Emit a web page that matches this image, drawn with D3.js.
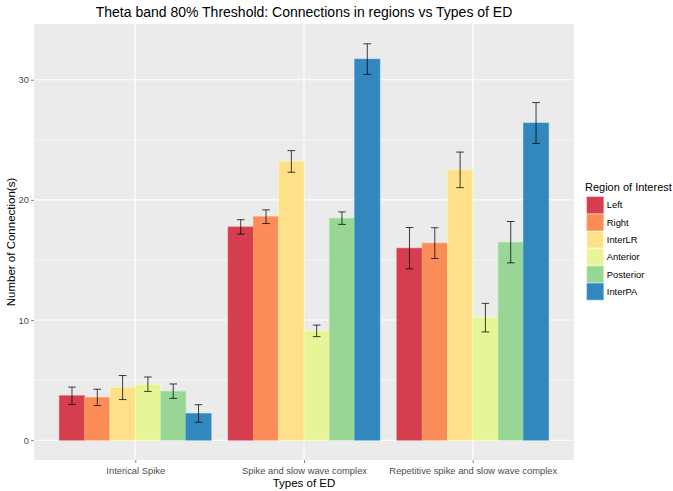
<!DOCTYPE html>
<html>
<head>
<meta charset="utf-8">
<script src="https://cdn.jsdelivr.net/npm/d3@7"></script>
<style>
  html, body { margin: 0; padding: 0; background: #fff; }
  svg { display: block; font-family: "Liberation Sans", Arial, sans-serif; }
</style>
</head>
<body>
<svg id="chart" width="673" height="491"></svg>
<script>
// Types of ED along the x axis
const edTypes = ["Interical Spike", "Spike and slow wave complex", "Repetitive spike and slow wave complex"];
// Regions of interest (fill groups)
const regions = ["Left", "Right", "InterLR", "Anterior", "Posterior", "InterPA"];
const regionColors = ["#D53E4F", "#FC8D59", "#FEE08B", "#E6F598", "#99D594", "#3288BD"];

// Mean number of connections, one array per region (ordered as edTypes)
const leftMean      = [3.70, 17.75, 15.98];
const rightMean     = [3.56, 18.60, 16.40];
const interLRMean   = [4.38, 23.20, 22.50];
const anteriorMean  = [4.66,  9.10, 10.20];
const posteriorMean = [4.08, 18.48, 16.48];
const interPAMean   = [2.22, 31.72, 26.40];

// Error-bar half widths, one array per region
const leftErr      = [0.72, 0.60, 1.72];
const rightErr     = [0.68, 0.57, 1.28];
const interLRErr   = [1.00, 0.90, 1.48];
const anteriorErr  = [0.60, 0.48, 1.19];
const posteriorErr = [0.60, 0.52, 1.72];
const interPAErr   = [0.73, 1.27, 1.70];

const yTicks = [0, 10, 20, 30];
const yMinorTicks = [5, 15, 25];

const means = [leftMean, rightMean, interLRMean, anteriorMean, posteriorMean, interPAMean];
const errs = [leftErr, rightErr, interLRErr, anteriorErr, posteriorErr, interPAErr];

const rows = [];
edTypes.forEach((ed, i) => {
  regions.forEach((r, j) => {
    rows.push({ ed, region: r, mean: means[j][i], err: errs[j][i] });
  });
});

const svg = d3.select("#chart");
const panel = { left: 34, right: 574, top: 24, bottom: 460 };

// ggplot-like expansion: 5% on each side of the data range
const dMin = 0;
const dMax = d3.max(rows, d => d.mean + d.err);
const pad = 0.05 * (dMax - dMin);
const y = d3.scaleLinear().domain([dMin - pad, dMax + pad]).range([panel.bottom, panel.top]);

// Discrete axis: 0.6 units of padding at each end
const x = d3.scalePoint().domain(edTypes).range([panel.left, panel.right]).padding(0.6);
const step = x.step();
const x1 = d3.scaleBand().domain(regions).range([-0.45 * step, 0.45 * step]);
const color = d3.scaleOrdinal().domain(regions).range(regionColors);

// Panel background
svg.append("rect")
  .attr("x", panel.left).attr("y", panel.top)
  .attr("width", panel.right - panel.left).attr("height", panel.bottom - panel.top)
  .attr("fill", "#EBEBEB");

// Grid lines
const grid = svg.append("g");
grid.selectAll("line.minor").data(yMinorTicks).join("line")
  .attr("x1", panel.left).attr("x2", panel.right)
  .attr("y1", d => y(d)).attr("y2", d => y(d))
  .attr("stroke", "#fff").attr("stroke-width", 0.6);
grid.selectAll("line.major").data(yTicks).join("line")
  .attr("x1", panel.left).attr("x2", panel.right)
  .attr("y1", d => y(d)).attr("y2", d => y(d))
  .attr("stroke", "#fff").attr("stroke-width", 1.1);
grid.selectAll("line.vx").data(edTypes).join("line")
  .attr("x1", d => x(d)).attr("x2", d => x(d))
  .attr("y1", panel.top).attr("y2", panel.bottom)
  .attr("stroke", "#fff").attr("stroke-width", 1.1);

// Bars
svg.append("g").selectAll("rect").data(rows).join("rect")
  .attr("x", d => x(d.ed) + x1(d.region))
  .attr("width", x1.bandwidth())
  .attr("y", d => y(d.mean))
  .attr("height", d => y(0) - y(d.mean))
  .attr("fill", d => color(d.region))
  .attr("stroke", d => d3.color(color(d.region)).brighter(0.35))
  .attr("stroke-opacity", 0.7)
  .attr("stroke-width", 0.8);

// Error bars
const capHalf = 3.8;
const eb = svg.append("g").attr("stroke", "#000").attr("stroke-opacity", 0.75).attr("stroke-width", 1);
rows.forEach(d => {
  const cx = x(d.ed) + x1(d.region) + x1.bandwidth() / 2;
  const yt = y(d.mean + d.err), yb = y(d.mean - d.err);
  eb.append("line").attr("x1", cx).attr("x2", cx).attr("y1", yt).attr("y2", yb);
  eb.append("line").attr("x1", cx - capHalf).attr("x2", cx + capHalf).attr("y1", yt).attr("y2", yt);
  eb.append("line").attr("x1", cx - capHalf).attr("x2", cx + capHalf).attr("y1", yb).attr("y2", yb);
});

// Y axis
const yAxis = svg.append("g")
  .attr("transform", `translate(${panel.left},0)`)
  .call(d3.axisLeft(y).tickValues(yTicks).tickSize(3).tickPadding(2));
yAxis.select(".domain").remove();
yAxis.selectAll(".tick line").attr("stroke", "#333").attr("stroke-opacity", 0.6);
yAxis.selectAll(".tick text").attr("fill", "#4D4D4D").attr("font-size", "9.4px")
  .attr("font-family", "Liberation Sans, Arial, sans-serif");

// X axis
const xAxis = svg.append("g")
  .attr("transform", `translate(0,${panel.bottom})`)
  .call(d3.axisBottom(x).tickSize(3).tickPadding(4));
xAxis.select(".domain").remove();
xAxis.selectAll(".tick line").attr("stroke", "#333").attr("stroke-opacity", 0.6);
xAxis.selectAll(".tick text").attr("fill", "#4D4D4D").attr("font-size", "9.4px")
  .attr("font-family", "Liberation Sans, Arial, sans-serif");

// Titles
svg.append("text")
  .attr("x", (panel.left + panel.right) / 2).attr("y", 17)
  .attr("text-anchor", "middle").attr("font-size", "14px").attr("fill", "#000")
  .text("Theta band 80% Threshold: Connections in regions vs Types of ED");

svg.append("text")
  .attr("x", (panel.left + panel.right) / 2).attr("y", 487)
  .attr("text-anchor", "middle").attr("font-size", "11.5px").attr("fill", "#000")
  .text("Types of ED");

svg.append("text")
  .attr("transform", `translate(15,${(panel.top + panel.bottom) / 2}) rotate(-90)`)
  .attr("text-anchor", "middle").attr("font-size", "11.5px").attr("fill", "#000")
  .text("Number of Connection(s)");

// Legend
const legend = svg.append("g").attr("transform", "translate(586.5,0)");
legend.append("text")
  .attr("x", -1.5).attr("y", 191)
  .attr("font-size", "11px").attr("fill", "#000")
  .text("Region of Interest");
const keySize = 17.3;
const item = legend.selectAll("g.item").data(regions).join("g")
  .attr("transform", (d, i) => `translate(0,${196.5 + i * keySize})`);
item.append("rect")
  .attr("width", keySize).attr("height", keySize)
  .attr("fill", "#F2F2F2");
item.append("rect")
  .attr("x", 0.5).attr("y", 0.5)
  .attr("width", keySize - 1).attr("height", keySize - 1)
  .attr("fill", d => color(d))
  .attr("stroke", d => d3.color(color(d)).brighter(0.35))
  .attr("stroke-opacity", 0.7)
  .attr("stroke-width", 0.8);
item.append("text")
  .attr("x", keySize + 3).attr("y", keySize / 2 + 3.3)
  .attr("font-size", "9.4px").attr("fill", "#000")
  .text(d => d);
</script>
</body>
</html>
